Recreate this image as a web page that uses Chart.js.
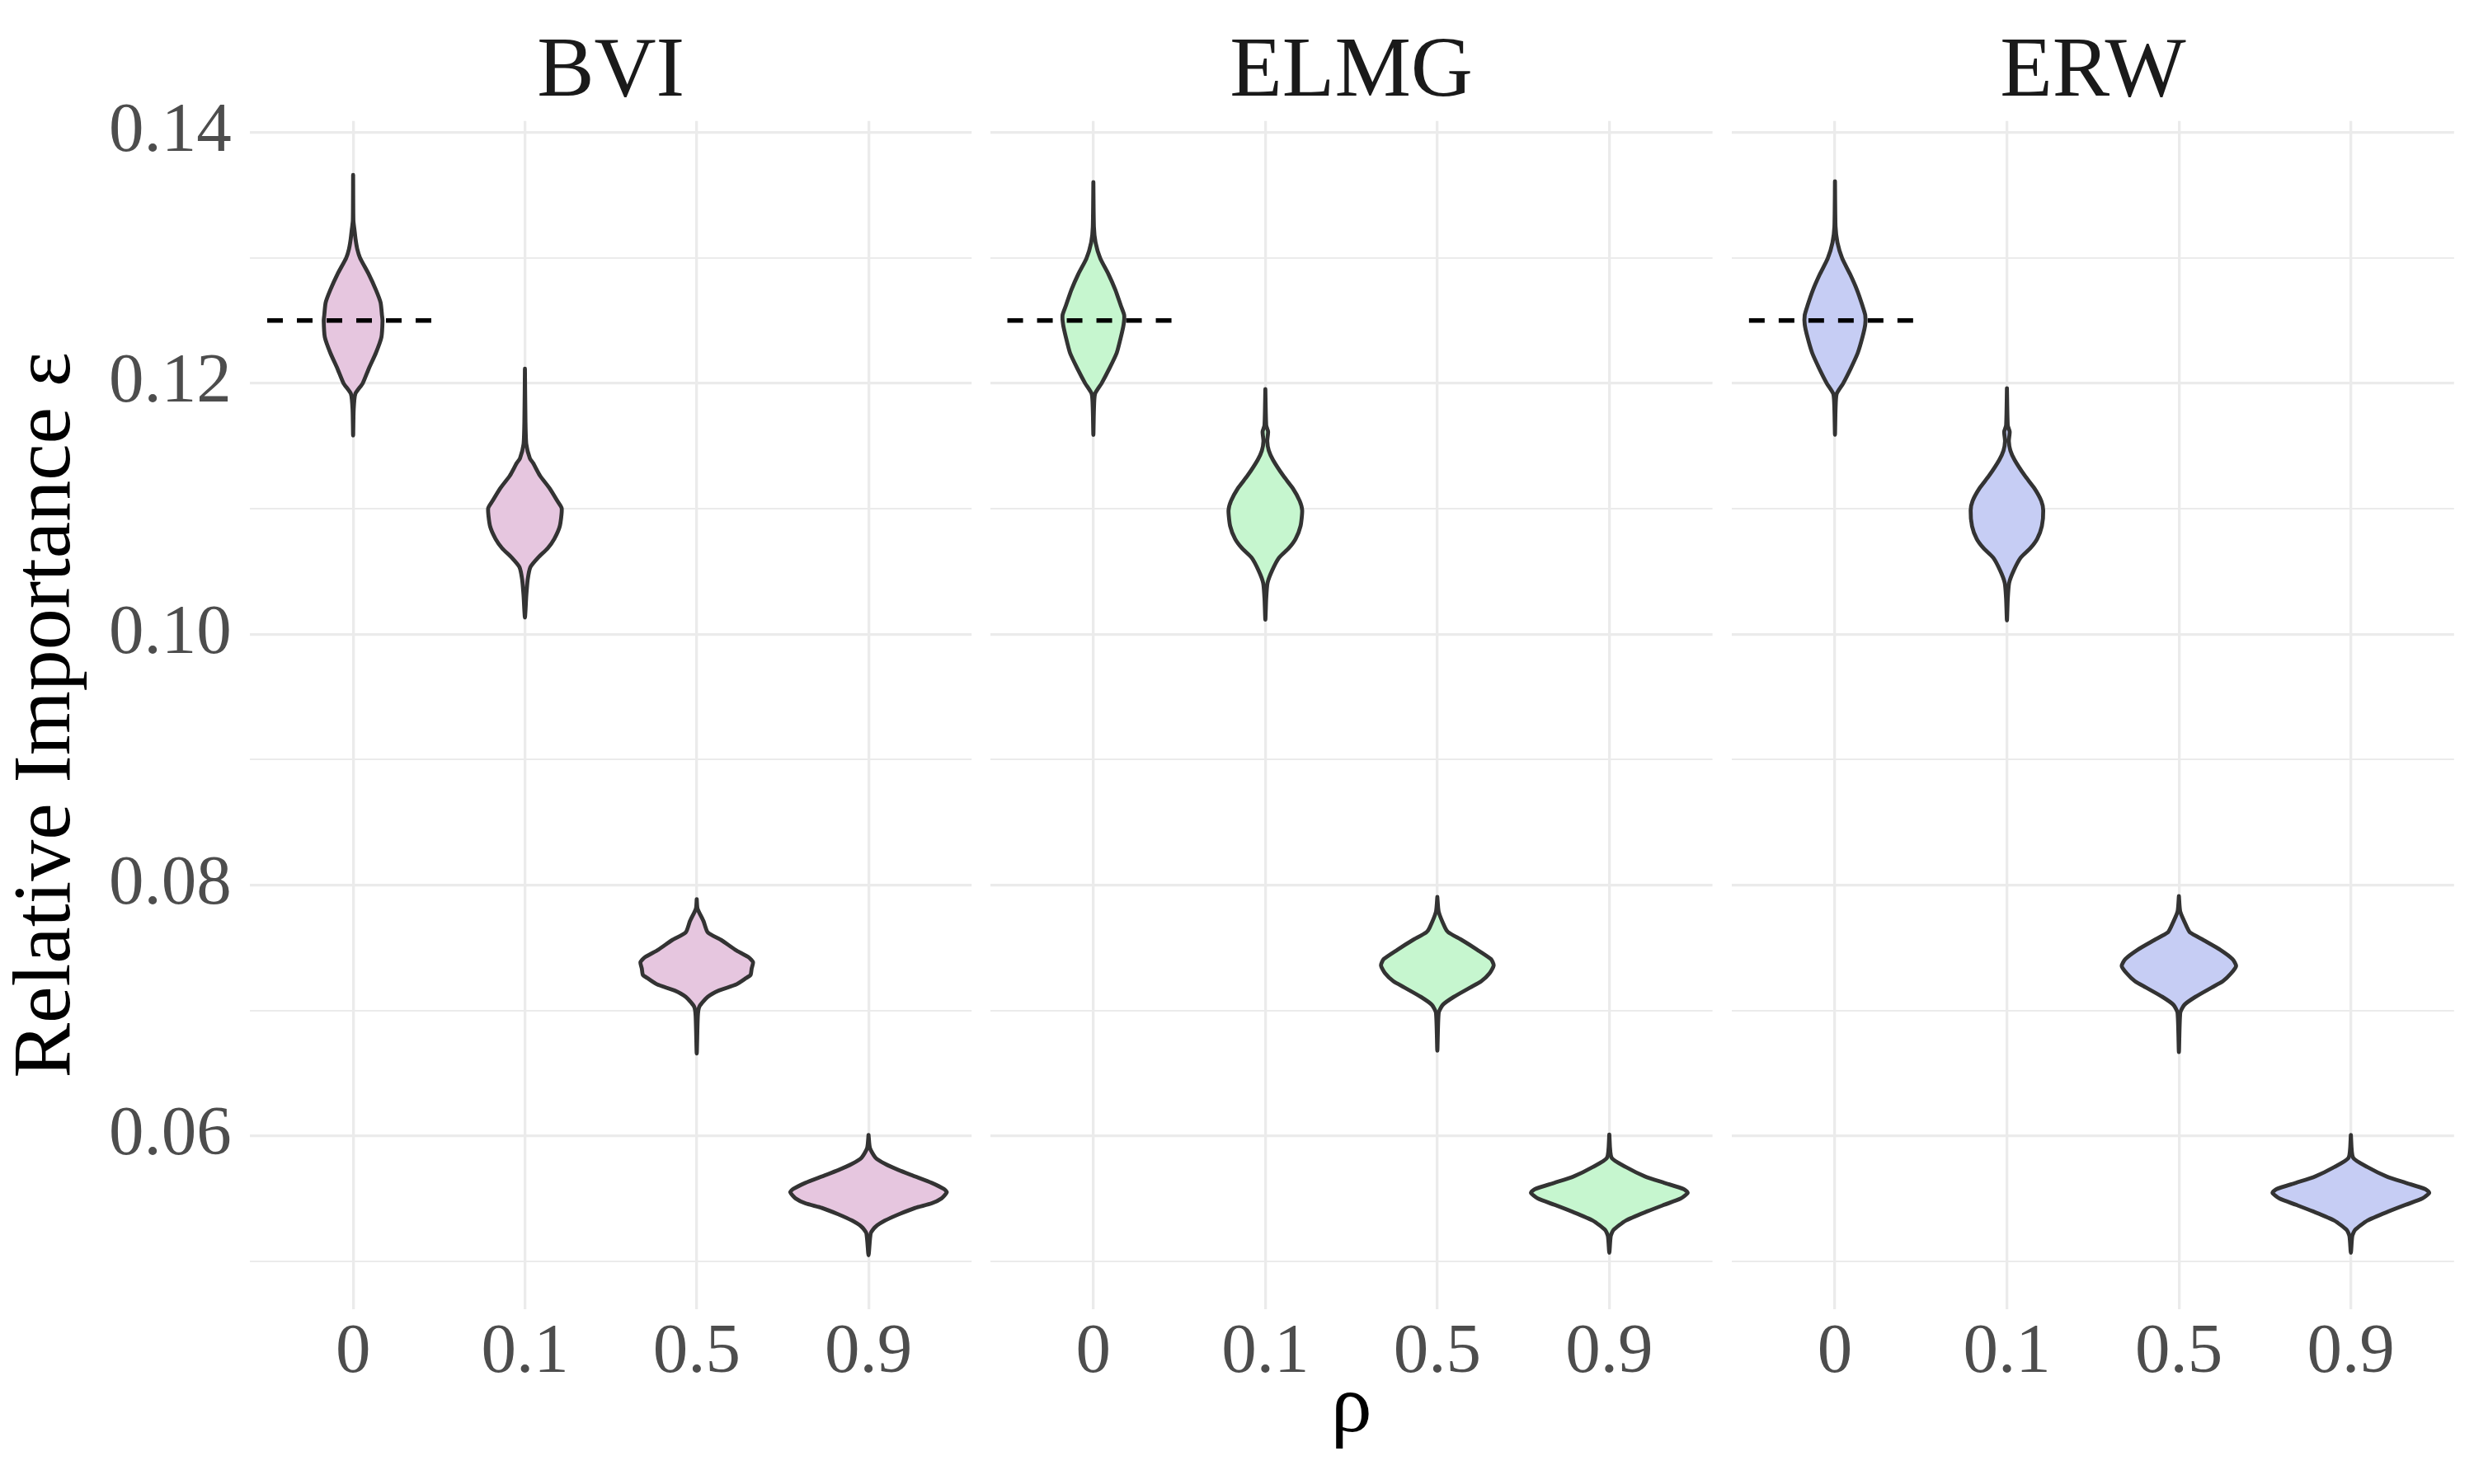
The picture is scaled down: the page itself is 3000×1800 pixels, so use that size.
<!DOCTYPE html>
<html>
<head>
<meta charset="utf-8">
<script src="https://cdn.jsdelivr.net/npm/chart.js@4"></script>
<style>
  html, body { margin: 0; padding: 0; background: #ffffff; }
  #wrap { position: relative; width: 3000px; height: 1800px; background: #ffffff; }
  #wrap canvas { position: absolute; left: 0; top: 0; }
</style>
</head>
<body>
<div id="wrap">
  <canvas id="c0" width="3000" height="1800"></canvas>
  <canvas id="c1" width="3000" height="1800"></canvas>
  <canvas id="c2" width="3000" height="1800"></canvas>
</div>
<script>
// ---------------- DATA ----------------
const methods = ['BVI', 'ELMG', 'ERW'];
const rhoLabels = ['0', '0.1', '0.5', '0.9'];
const trueImportance = 0.125;           // dashed reference at rho = 0
const yMajorTicks = [0.06, 0.08, 0.10, 0.12, 0.14];
const yMinorTicks = [0.05, 0.07, 0.09, 0.11, 0.13];

// violin density profiles: [relative importance, scaled half-density]
const bvi_rho0 = [[0.13660,0],[0.13296,0.0016],[0.13221,0.008],[0.13146,0.0144],[0.13070,0.024],[0.13000,0.040],[0.12869,0.0911],[0.12744,0.1327],[0.12643,0.1599],[0.12543,0.1679],[0.12498,0.1711],[0.12367,0.1647],[0.12242,0.1327],[0.12116,0.0911],[0.12000,0.056],[0.11915,0.0128],[0.11790,0.0032],[0.11584,0]];
const bvi_rho01 = [[0.12116,0],[0.11689,0.0032],[0.11514,0.008],[0.11401,0.0288],[0.11363,0.048],[0.11263,0.0879],[0.11162,0.1439],[0.11062,0.1886],[0.11002,0.2142],[0.10861,0.2030],[0.10760,0.1711],[0.10685,0.1327],[0.10610,0.0767],[0.10535,0.032],[0.10434,0.016],[0.10309,0.008],[0.10133,0]];
const bvi_rho05 = [[0.07887,0],[0.07812,0.0048],[0.07711,0.04],[0.07623,0.064],[0.07561,0.1439],[0.07485,0.2238],[0.07423,0.3038],[0.07385,0.3277],[0.07335,0.3197],[0.07284,0.3134],[0.07259,0.2878],[0.07209,0.2318],[0.07159,0.1279],[0.07109,0.0639],[0.07033,0.016],[0.06958,0.0064],[0.06657,0]];
const bvi_rho09 = [[0.06009,0],[0.05904,0.008],[0.05828,0.04],[0.05778,0.0959],[0.05728,0.1759],[0.05678,0.2718],[0.05627,0.3677],[0.05577,0.4396],[0.05552,0.4556],[0.05502,0.4237],[0.05464,0.3677],[0.05427,0.2718],[0.05376,0.1759],[0.05326,0.0959],[0.05276,0.04],[0.05226,0.0128],[0.05050,0]];

const elmg_rho0 = [[0.13603,0],[0.13246,0.0032],[0.13121,0.0128],[0.12995,0.04],[0.12869,0.0879],[0.12744,0.1279],[0.12618,0.1599],[0.12543,0.1791],[0.12468,0.1759],[0.12367,0.1599],[0.12242,0.1359],[0.12116,0.0927],[0.12000,0.048],[0.11915,0.0096],[0.11790,0.0032],[0.11589,0]];
const elmg_rho01 = [[0.11953,0],[0.11664,0.005],[0.11614,0.016],[0.11539,0.011],[0.11463,0.02],[0.11388,0.0448],[0.11263,0.1039],[0.11162,0.1599],[0.11062,0.1998],[0.10986,0.2142],[0.10861,0.2046],[0.10760,0.1759],[0.10685,0.1359],[0.10610,0.0799],[0.10509,0.04],[0.10409,0.0128],[0.10283,0.0048],[0.10115,0]];
const elmg_rho05 = [[0.07905,0],[0.07787,0.008],[0.07661,0.045],[0.07623,0.064],[0.07561,0.1439],[0.07485,0.2318],[0.07410,0.3118],[0.07360,0.3277],[0.07297,0.3038],[0.07234,0.2558],[0.07184,0.1918],[0.07109,0.0959],[0.07046,0.032],[0.06983,0.008],[0.06680,0]];
const elmg_rho09 = [[0.06012,0],[0.05828,0.0128],[0.05753,0.0959],[0.05678,0.2078],[0.05627,0.3197],[0.05577,0.4317],[0.05547,0.4556],[0.05502,0.4157],[0.05452,0.3197],[0.05401,0.2238],[0.05326,0.0959],[0.05251,0.024],[0.05201,0.008],[0.05070,0]];

const erw_rho0 = [[0.13610,0],[0.13250,0.0032],[0.13121,0.0144],[0.12995,0.042],[0.12869,0.0879],[0.12744,0.1279],[0.12618,0.1599],[0.12543,0.1759],[0.12468,0.1759],[0.12367,0.1599],[0.12242,0.1327],[0.12116,0.0911],[0.12000,0.048],[0.11915,0.0096],[0.11790,0.0032],[0.11590,0]];
const erw_rho01 = [[0.11960,0],[0.11664,0.0048],[0.11614,0.016],[0.11539,0.011],[0.11463,0.02],[0.11388,0.0448],[0.11263,0.1039],[0.11162,0.1599],[0.11062,0.1998],[0.10986,0.2110],[0.10861,0.2030],[0.10760,0.1759],[0.10685,0.1359],[0.10610,0.0799],[0.10509,0.04],[0.10409,0.0128],[0.10283,0.0048],[0.10110,0]];
const erw_rho05 = [[0.07912,0],[0.07787,0.008],[0.07661,0.048],[0.07623,0.064],[0.07561,0.1439],[0.07485,0.2398],[0.07410,0.3118],[0.07355,0.3325],[0.07297,0.3038],[0.07234,0.2558],[0.07184,0.1918],[0.07109,0.0959],[0.07046,0.032],[0.06983,0.008],[0.06669,0]];
const erw_rho09 = [[0.06009,0],[0.05828,0.0128],[0.05753,0.0959],[0.05678,0.2078],[0.05627,0.3197],[0.05577,0.4317],[0.05547,0.4556],[0.05502,0.4157],[0.05452,0.3197],[0.05401,0.2238],[0.05326,0.0959],[0.05251,0.024],[0.05201,0.008],[0.05070,0]];

const violinsByMethod = [
  [bvi_rho0, bvi_rho01, bvi_rho05, bvi_rho09],
  [elmg_rho0, elmg_rho01, elmg_rho05, elmg_rho09],
  [erw_rho0, erw_rho01, erw_rho05, erw_rho09]
];

// ---------------- STYLE / LAYOUT ----------------
const fillColors = ['#E6C6DF', '#C6F6CF', '#C6CDF4'];
const FONT = "'Liberation Serif', 'Times New Roman', serif";
const GRID = '#EBEBEB';
const panelLeft = [303.2, 1200.7, 2100.0];
const panelRight = [1178.2, 2076.6, 2975.8];
const W = 3000, H = 1800;
const plotTop = 146.7, plotBottom = 1588;

// y range: data range expanded by 5% (ggplot default)
let dMin = Infinity, dMax = -Infinity;
violinsByMethod.forEach(m => m.forEach(p => p.forEach(([v]) => { dMin = Math.min(dMin, v); dMax = Math.max(dMax, v); })));
const pad = (dMax - dMin) * 0.05;
const yMin = dMin - pad, yMax = dMax + pad;

function outline(profile, cat) {
  const right = profile.map(([v, d]) => ({ x: cat + d, y: v }));
  const left = profile.slice(1, -1).reverse().map(([v, d]) => ({ x: cat - d, y: v }));
  return [...right, ...left, right[0]];
}

const yTicksAll = [...yMajorTicks, ...yMinorTicks].sort((a, b) => a - b);
const isMajor = v => yMajorTicks.some(t => Math.abs(t - v) < 1e-9);

methods.forEach((method, i) => {
  const datasets = [];
  datasets.push({
    type: 'line',
    label: 'true',
    data: [{ x: 0.5, y: trueImportance }, { x: 1.5, y: trueImportance }],
    borderColor: '#000000',
    borderWidth: 5.3,
    borderDash: [19, 17],
    borderCapStyle: 'butt',
    pointRadius: 0,
    fill: false,
    order: 0
  });
  violinsByMethod[i].forEach((prof, k) => {
    datasets.push({
      type: 'line',
      label: method + ' ' + rhoLabels[k],
      data: outline(prof, k + 1),
      borderColor: '#333333',
      borderWidth: 4.8,
      backgroundColor: fillColors[i],
      fill: 'shape',
      pointRadius: 0,
      tension: 0.2,
      borderJoinStyle: 'round',
      borderCapStyle: 'round',
      order: 1
    });
  });

  new Chart(document.getElementById('c' + i), {
    type: 'scatter',
    data: { datasets },
    options: {
      responsive: false,
      animation: false,
      devicePixelRatio: 1,
      events: [],
      layout: { padding: { left: i === 0 ? 0 : panelLeft[i], right: W - panelRight[i], top: 0, bottom: 0 } },
      plugins: {
        legend: { display: false },
        tooltip: { enabled: false },
        title: {
          display: true,
          text: method,
          fullSize: false,
          color: '#1A1A1A',
          font: { family: FONT, size: 104, weight: 'normal', lineHeight: 1 },
          padding: { top: 37, bottom: plotTop - 104 - 37 }
        }
      },
      scales: {
        x: {
          type: 'linear',
          min: 0.4,
          max: 4.6,
          afterBuildTicks: s => { s.ticks = rhoLabels.map((_, k) => ({ value: k + 1 })); },
          afterFit: s => { s.height = H - plotBottom; },
          ticks: {
            autoSkip: false,
            maxRotation: 0,
            padding: 11,
            color: '#4D4D4D',
            font: { family: FONT, size: 85, lineHeight: 1 },
            callback: v => rhoLabels[Math.round(v) - 1]
          },
          grid: { color: GRID, lineWidth: 3.3, drawTicks: false },
          border: { display: false },
          title: {
            display: i === 1,
            text: 'ρ',
            color: '#000000',
            font: { family: FONT, size: 100, lineHeight: 1 },
            padding: { top: 0, bottom: 40 }
          }
        },
        y: {
          type: 'linear',
          min: yMin,
          max: yMax,
          afterBuildTicks: s => { s.ticks = yTicksAll.map(v => ({ value: v })); },
          afterFit: s => { s.width = i === 0 ? panelLeft[0] : 0; },
          ticks: {
            display: i === 0,
            padding: 22.5,
            color: '#4D4D4D',
            font: { family: FONT, size: 85, lineHeight: 1 },
            callback: v => isMajor(v) ? v.toFixed(2) : ''
          },
          grid: { color: GRID, lineWidth: ctx => (ctx.tick && isMajor(ctx.tick.value)) ? 3.3 : 2, drawTicks: false },
          border: { display: false },
          title: {
            display: i === 0,
            text: 'Relative Importance ε',
            color: '#000000',
            font: { family: FONT, size: 100, lineHeight: 1 },
            padding: { top: 8, bottom: 0 }
          }
        }
      }
    }
  });
});
</script>
</body>
</html>
